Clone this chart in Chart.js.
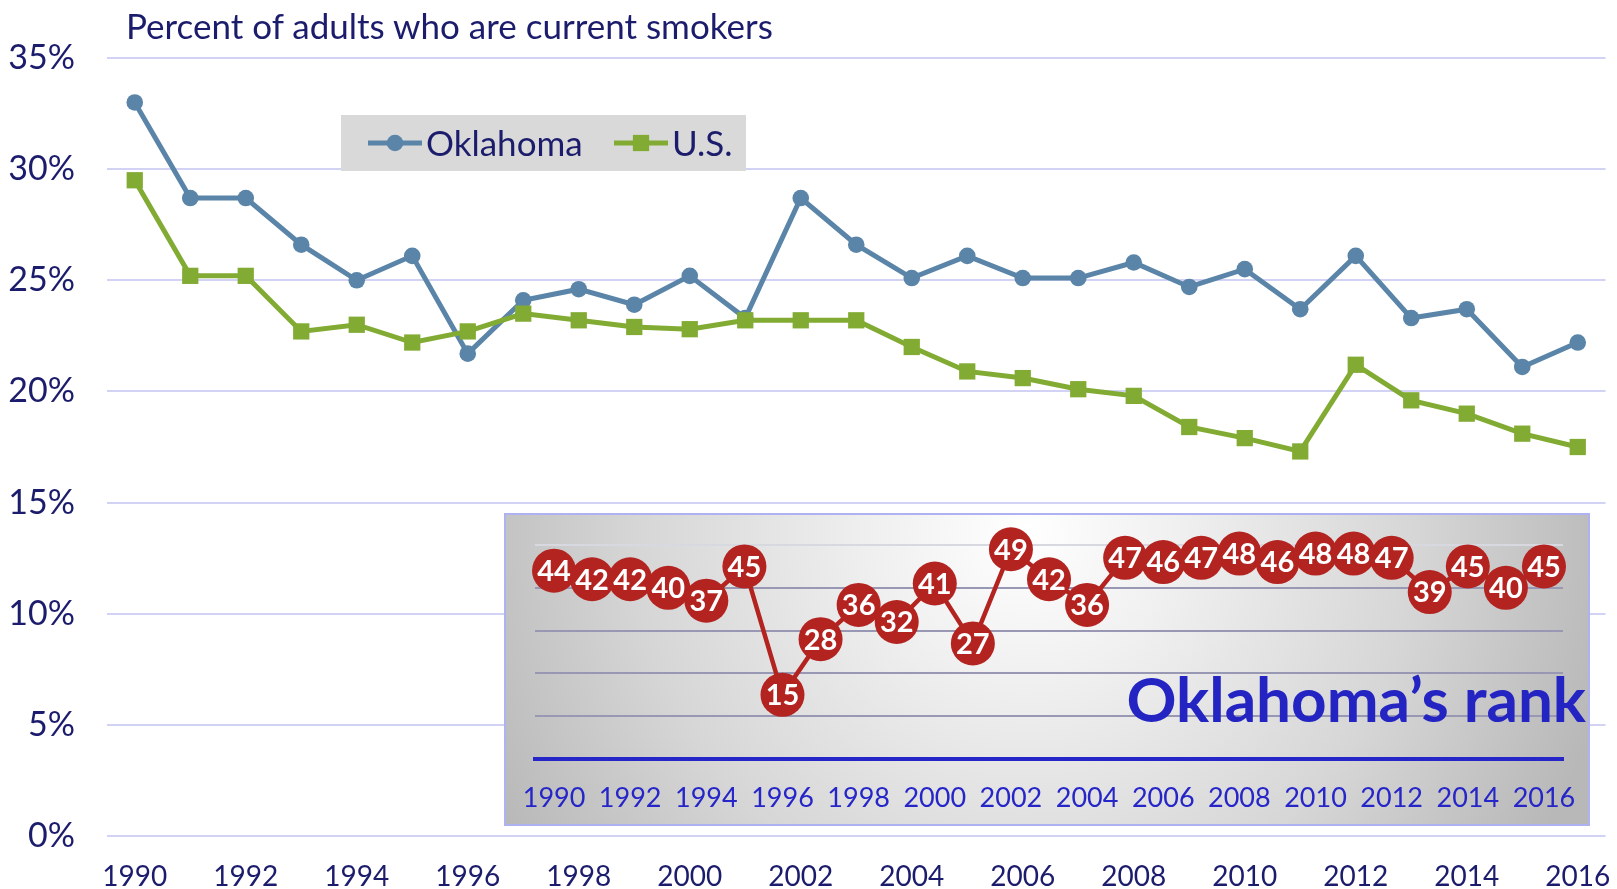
<!DOCTYPE html>
<html>
<head>
<meta charset="utf-8">
<script src="https://cdn.jsdelivr.net/npm/chart.js@4.4.1/dist/chart.umd.min.js"></script>
<style>
    body { margin: 0; width: 1617px; height: 889px; overflow: hidden; position: relative; background: #fff; font-family: Lato, sans-serif; }
    #mainChart { position: absolute; left: 0; top: 0; }
    #title { position: absolute; left: 126px; top: 8px; font-size: 35px; line-height: 1; color: #1c1c6c; white-space: nowrap; }
    #inset {
        position: absolute; left: 504px; top: 513px; width: 1086px; height: 313px; box-sizing: border-box;
        border: 2px solid #aeb2f0;
        background: radial-gradient(circle 600px at 48% 5%, #ffffff 0%, #f0f0f0 25%, #d6d6d6 65%, #b8b8b8 100%);
    }
    #rankChart { position: absolute; left: 0; top: 0; }
    #rankTitle { position: absolute; right: 31px; top: 667px; font-size: 62px; font-weight: bold; line-height: 1; color: #2424c2; white-space: nowrap; }
</style>
</head>
<body>
<canvas id="mainChart" width="1617" height="889"></canvas>
<div id="title">Percent of adults who are current smokers</div>
<div id="inset"><canvas id="rankChart" width="1082" height="309"></canvas></div>
<div id="rankTitle">Oklahoma’s rank</div>

<script>
const years = ['1990', '1991', '1992', '1993', '1994', '1995', '1996', '1997', '1998', '1999',
    '2000', '2001', '2002', '2003', '2004', '2005', '2006', '2007', '2008', '2009',
    '2010', '2011', '2012', '2013', '2014', '2015', '2016'];

// Percent of adults who smoke
const oklahoma = [33.0, 28.7, 28.7, 26.6, 25.0, 26.1, 21.7, 24.1, 24.6, 23.9,
    25.2, 23.3, 28.7, 26.6, 25.1, 26.1, 25.1, 25.1, 25.8, 24.7,
    25.5, 23.7, 26.1, 23.3, 23.7, 21.1, 22.2];
const us = [29.5, 25.2, 25.2, 22.7, 23.0, 22.2, 22.7, 23.5, 23.2, 22.9,
    22.8, 23.2, 23.2, 23.2, 22.0, 20.9, 20.6, 20.1, 19.8, 18.4,
    17.9, 17.3, 21.2, 19.6, 19.0, 18.1, 17.5];

// Oklahoma's state rank
const rank = [44, 42, 42, 40, 37, 45, 15, 28, 36, 32, 41, 27, 49, 42, 36,
    47, 46, 47, 48, 46, 48, 48, 47, 39, 45, 40, 45];

const navy = '#1c1c6c';
const okColor = '#5a85a8';
const usColor = '#82ab33';
const rankColor = '#b32320';
const insetBlue = '#2626c8';

// Legend box drawn inside the plot (line + marker + name)
const legendBox = {
    id: 'legendBox',
    afterDraw(chart) {
        const ctx = chart.ctx;
        ctx.save();
        ctx.fillStyle = '#d9d9d9';
        ctx.fillRect(341, 115, 405, 56);
        const y = 143;
        const items = [
            { ds: chart.data.datasets[1], x: 368 },
            { ds: chart.data.datasets[0], x: 614 }
        ];
        ctx.font = '35px Lato';
        ctx.textBaseline = 'middle';
        items.forEach(it => {
            ctx.strokeStyle = it.ds.borderColor;
            ctx.lineWidth = 5;
            ctx.beginPath();
            ctx.moveTo(it.x, y);
            ctx.lineTo(it.x + 54, y);
            ctx.stroke();
            ctx.fillStyle = it.ds.backgroundColor;
            Chart.helpers.drawPoint(ctx, { pointStyle: it.ds.pointStyle, radius: it.ds.pointRadius, rotation: 0, borderWidth: 0 }, it.x + 27, y);
            ctx.fillStyle = navy;
            ctx.fillText(it.ds.label, it.x + 58, y + 2);
        });
        ctx.restore();
    }
};

// Rank numbers written inside the circles
const rankLabels = {
    id: 'rankLabels',
    afterDatasetsDraw(chart) {
        const ctx = chart.ctx;
        const meta = chart.getDatasetMeta(0);
        ctx.save();
        ctx.fillStyle = '#fff';
        ctx.font = 'bold 29px Lato';
        ctx.textAlign = 'center';
        ctx.textBaseline = 'middle';
        meta.data.forEach((pt, i) => ctx.fillText(rank[i], pt.x, pt.y + 1));
        ctx.restore();
    }
};

function drawCharts() {
    new Chart(document.getElementById('mainChart'), {
        type: 'line',
        data: {
            labels: years,
            datasets: [
                {
                    label: 'U.S.', data: us, order: 0,
                    borderColor: usColor, backgroundColor: usColor, borderWidth: 5,
                    pointStyle: 'rect', pointRadius: 11.5, pointBorderWidth: 0, clip: false
                },
                {
                    label: 'Oklahoma', data: oklahoma, order: 1,
                    borderColor: okColor, backgroundColor: okColor, borderWidth: 5,
                    pointStyle: 'circle', pointRadius: 8.3, pointBorderWidth: 0, clip: false
                }
            ]
        },
        options: {
            responsive: false,
            animation: false,
            devicePixelRatio: 1,
            layout: { padding: { left: 0, right: 7, top: 58, bottom: 0 } },
            plugins: { legend: { display: false }, tooltip: { enabled: false } },
            scales: {
                x: {
                    offset: true,
                    grid: { display: true, drawOnChartArea: false, drawTicks: true, tickLength: 24, tickColor: 'rgba(0,0,0,0)' },
                    border: { display: false },
                    ticks: {
                        autoSkip: false, maxRotation: 0, padding: 0,
                        color: navy, font: { family: 'Lato', size: 28 },
                        callback: (v, i) => (i % 2 === 0 ? years[i] : '')
                    },
                    afterFit: (axis) => { axis.height = 53; }
                },
                y: {
                    min: 0, max: 35,
                    grid: { color: '#d2d2f4', lineWidth: 2, drawTicks: false },
                    border: { display: false },
                    ticks: {
                        stepSize: 5, padding: 32,
                        color: navy, font: { family: 'Lato', size: 34 },
                        callback: (v) => v + '%'
                    },
                    afterFit: (axis) => { axis.width = 107; }
                }
            }
        },
        plugins: [legendBox]
    });

    new Chart(document.getElementById('rankChart'), {
        type: 'line',
        data: {
            labels: years,
            datasets: [{
                label: 'Rank', data: rank,
                borderColor: rankColor, backgroundColor: rankColor, borderWidth: 4.5,
                pointRadius: 22, pointBorderWidth: 0, clip: false
            }]
        },
        options: {
            responsive: false,
            animation: false,
            devicePixelRatio: 1,
            layout: { padding: { left: 29, right: 25, top: 30, bottom: 0 } },
            plugins: { legend: { display: false }, tooltip: { enabled: false } },
            scales: {
                x: {
                    offset: true,
                    grid: { display: true, drawOnChartArea: false, drawTicks: true, tickLength: 23, tickColor: 'rgba(0,0,0,0)' },
                    border: { display: true, color: insetBlue, width: 4 },
                    ticks: {
                        autoSkip: false, maxRotation: 0, padding: 0,
                        color: insetBlue, font: { family: 'Lato', size: 27 },
                        callback: (v, i) => (i % 2 === 0 ? years[i] : '')
                    },
                    afterFit: (axis) => { axis.height = 65; }
                },
                y: {
                    min: 0, max: 50,
                    grid: {
                        drawTicks: false, lineWidth: 2,
                        color: (c) => (c.tick && c.tick.value === 50 ? '#d8d8e0' : '#9898b4')
                    },
                    border: { display: false },
                    ticks: { display: false, stepSize: 10 },
                    afterFit: (axis) => { axis.width = 0; }
                }
            }
        },
        plugins: [rankLabels]
    });
}

Promise.all([
    document.fonts.load('35px Lato'),
    document.fonts.load('bold 29px Lato')
]).then(drawCharts, drawCharts);
</script>
</body>
</html>
